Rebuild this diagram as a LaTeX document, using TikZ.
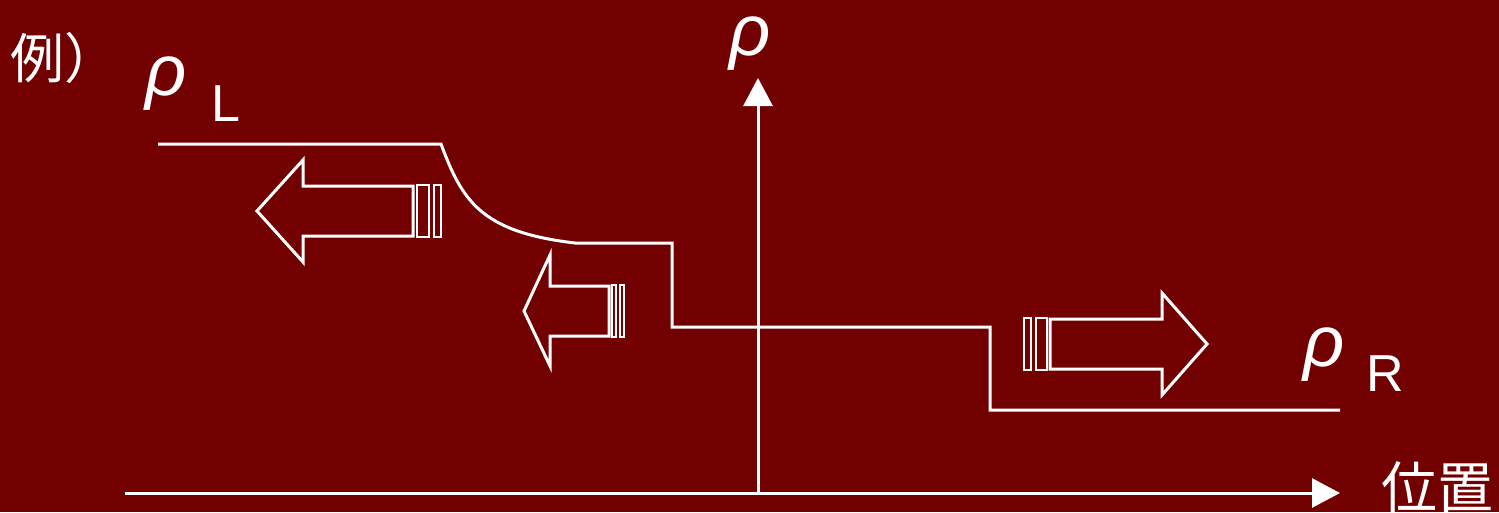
\documentclass[tikz,border=0pt]{standalone}
\usepackage{fontspec}
\setmainfont{Liberation Sans}
\newfontfamily\jpfont{Noto Sans CJK JP}
\usetikzlibrary{arrows.meta}
\definecolor{bg}{RGB}{115,0,0}
\tikzset{
  line/.style={draw=white,line width=3pt},
  blockarrow/.style={draw=white,line width=3pt,line join=miter},
  axis/.style={draw=white,line width=3pt,-{Triangle[length=28pt,width=29pt]}},
  lbl/.style={text=white,inner sep=0pt},
  rhofont/.style={font=\fontsize{72}{72}\selectfont\itshape},
}
\begin{document}
\begin{tikzpicture}[x=1pt,y=-1pt]
\fill[bg] (0,0) rectangle (1499,512);
\useasboundingbox (0,0) rectangle (1499,512);
% axes
\coordinate (xs) at (125,493);
\coordinate (xe) at (1340,493);
\coordinate (ys) at (758,493);
\coordinate (ye) at (758,78);
\draw[axis] (xs) -- (xe);
\draw[axis] (ys) -- (ye);
% density profile
\draw[line,line join=miter] (158,144) -- (441,144)
  .. controls (462,200) and (480,232) .. (575,243)
  -- (672,243) -- (672,327) -- (990,327) -- (990,410) -- (1340,410);
% arrow 1 (left, large)
\draw[blockarrow] (413,186) -- (303,186) -- (303,160) -- (257,211) -- (303,262) -- (303,236) -- (413,236) -- cycle;
\draw[line,line width=2.5pt] (417,185) rectangle (429,237);
\draw[line,line width=2.5pt] (434,185) rectangle (441,237);
% arrow 2 (middle)
\draw[blockarrow] (609,286) -- (550,286) -- (550,255) -- (524,311) -- (550,366) -- (550,336) -- (609,336) -- cycle;
\draw[line,line width=2.5pt] (612,285) rectangle (616,337);
\draw[line,line width=2.5pt] (620,285) rectangle (624,337);
% arrow 3 (right)
\draw[blockarrow] (1050,319) -- (1162,319) -- (1162,293) -- (1207,344) -- (1162,395) -- (1162,369) -- (1050,369) -- cycle;
\draw[line,line width=2.5pt] (1024,318) rectangle (1031,370);
\draw[line,line width=2.5pt] (1036,318) rectangle (1047,370);
% labels
\node[lbl,rhofont] (rho) at (750,44) {ρ};
\node[lbl,rhofont] (rhoL) at (166,84) {ρ};
\node[lbl] (L) at (226,104) {\fontsize{52}{52}\selectfont L};
\node[lbl,rhofont] (rhoR) at (1324,355) {ρ};
\node[lbl] (R) at (1385,374) {\fontsize{52}{52}\selectfont R};
\node[lbl,anchor=west] (ex) at (10,58) {\jpfont\fontsize{54}{54}\selectfont 例）};
\node[lbl] (pos) at (1437,487) {\jpfont\fontsize{56}{56}\selectfont 位置};
\end{tikzpicture}
\end{document}
